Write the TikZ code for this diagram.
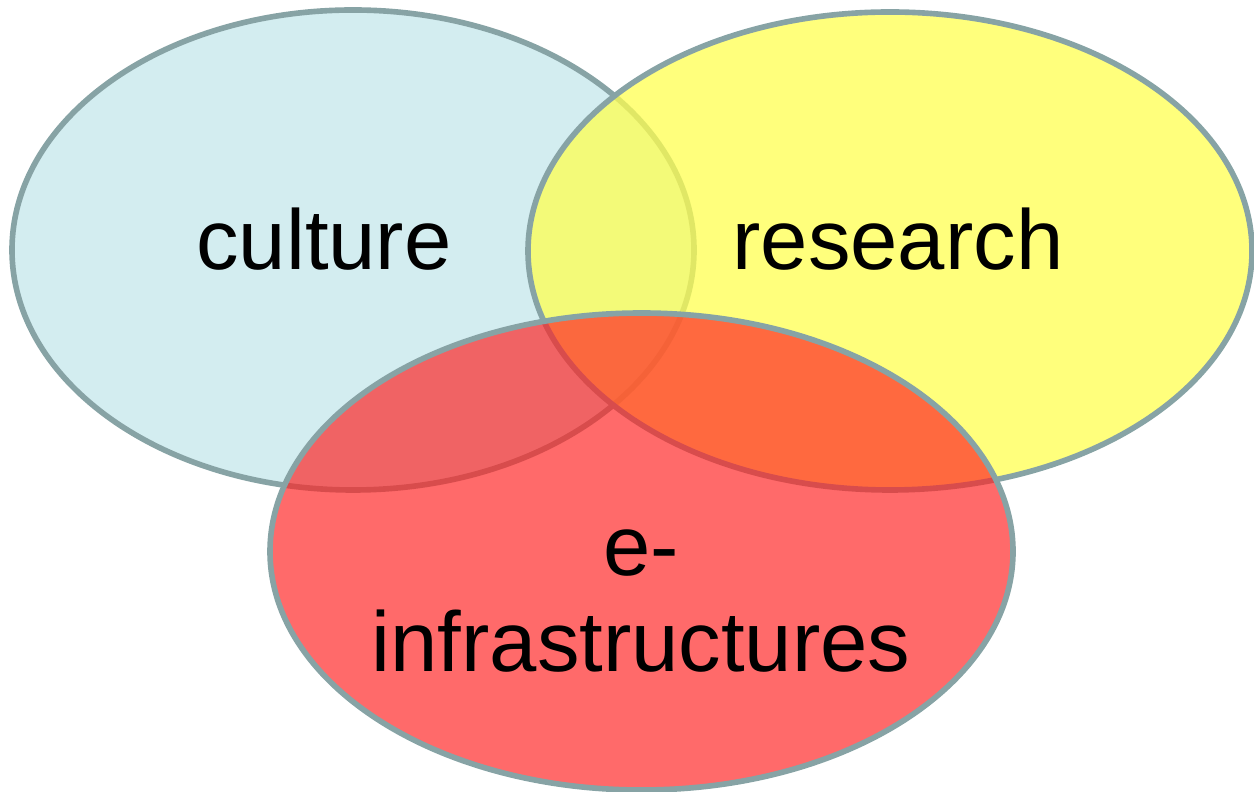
\documentclass[tikz,border=0pt]{standalone}
\usepackage{fontspec}
\setmainfont{Liberation Sans}
\definecolor{rim}{RGB}{135,163,165}
\definecolor{cultfill}{RGB}{211,237,240}
\definecolor{resfill}{RGB}{255,255,80}
\definecolor{infrafill}{RGB}{255,35,35}
\tikzset{
  set/.style={draw=rim, line width=1.6pt},
  label/.style={font=\fontsize{24.2}{27.2}\selectfont, text=black, anchor=base}
}
\begin{document}
\begin{tikzpicture}
  \useasboundingbox (0,0) rectangle (12.54,-7.92);

  \draw[set, fill=cultfill] (3.53,-2.50) ellipse [x radius=3.41, y radius=2.40];
  \draw[set, fill=resfill, fill opacity=0.75] (8.90,-2.51) ellipse [x radius=3.62, y radius=2.39];
  \draw[set, fill=infrafill, fill opacity=0.68] (6.415,-5.515) ellipse [x radius=3.715, y radius=2.385];

  \node[label] (culture) at (3.24,-2.70) {culture};
  \node[label] (research) at (8.98,-2.70) {research};
  \node[label, align=center] (infra) at (6.41,-6.71) {e-\\infrastructures};
\end{tikzpicture}
\end{document}
